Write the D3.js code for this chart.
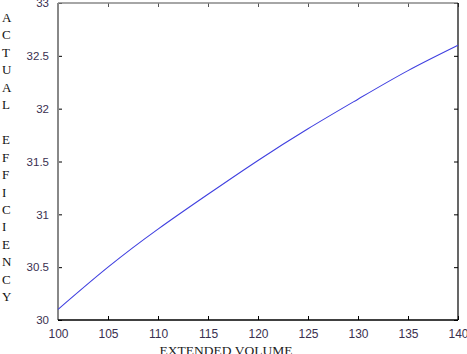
<!DOCTYPE html>
<html>
<head>
<meta charset="utf-8">
<script src="https://cdn.jsdelivr.net/npm/d3@7"></script>
<style>
  body { margin: 0; background: #fff; }
  svg { display: block; }
</style>
</head>
<body>
<script>
  // data
  var volume = [100, 105, 110, 115, 120, 125, 130, 135, 140];
  var efficiency = [30.10, 30.50, 30.86, 31.19, 31.51, 31.81, 32.09, 32.36, 32.60];
  var xTicks = [100, 105, 110, 115, 120, 125, 130, 135, 140];
  var yTicks = [30, 30.5, 31, 31.5, 32, 32.5, 33];
  var yTitle = "ACTUAL EFFICIENCY";
  var xTitle = "EXTENDED VOLUME";

  /***** Configuration *****/
  var W = 467, H = 354;
  var margin = { top: 3, right: 9, bottom: 34, left: 58 };
  var width = W - margin.left - margin.right;
  var height = H - margin.top - margin.bottom;

  var svg = d3.select("body").append("svg")
    .attr("width", W)
    .attr("height", H);

  var g = svg.append("g")
    .attr("transform", "translate(" + margin.left + "," + margin.top + ")");

  /***** Scales *****/
  var x = d3.scaleLinear().domain([100, 140]).range([0, width]);
  var y = d3.scaleLinear().domain([30, 33]).range([height, 0]);

  var tickFont = "'Liberation Sans', Arial, sans-serif";

  // bottom axis
  var xAxis = d3.axisBottom(x).tickValues(xTicks).tickSize(-4).tickPadding(9)
    .tickFormat(d3.format("d"));
  var gx = g.append("g").attr("transform", "translate(0," + height + ")").call(xAxis);
  gx.select(".domain").remove();
  gx.selectAll(".tick line").attr("stroke", "#000");
  gx.selectAll(".tick text").attr("font-family", tickFont).attr("font-size", 12).attr("fill", "#3a3050");

  // top ticks
  var gxt = g.append("g").call(d3.axisTop(x).tickValues(xTicks).tickSize(-4).tickFormat(""));
  gxt.select(".domain").remove();
  gxt.selectAll(".tick line").attr("stroke", "#555");

  // left axis
  var yAxis = d3.axisLeft(y).tickValues(yTicks).tickSize(-4).tickPadding(9)
    .tickFormat(function (d) { return d3.format("")(d); });
  var gy = g.append("g").call(yAxis);
  gy.select(".domain").remove();
  gy.selectAll(".tick line").attr("stroke", "#000");
  gy.selectAll(".tick text").attr("font-family", tickFont).attr("font-size", 11.5).attr("fill", "#3a3050");

  // right ticks
  var gyr = g.append("g").attr("transform", "translate(" + width + ",0)")
    .call(d3.axisRight(y).tickValues(yTicks).tickSize(-4).tickFormat(""));
  gyr.select(".domain").remove();
  gyr.selectAll(".tick line").attr("stroke", "#000");

  // frame
  g.append("line").attr("x1", 0).attr("x2", width).attr("y1", 0).attr("y2", 0)
    .attr("stroke", "#888").attr("stroke-width", 1.5);
  g.append("line").attr("x1", 0).attr("x2", 0).attr("y1", 0).attr("y2", height)
    .attr("stroke", "#888").attr("stroke-width", 2);
  g.append("line").attr("x1", 0).attr("x2", width).attr("y1", height).attr("y2", height)
    .attr("stroke", "#000").attr("stroke-width", 1.5);
  g.append("line").attr("x1", width).attr("x2", width).attr("y1", 0).attr("y2", height)
    .attr("stroke", "#000").attr("stroke-width", 1.2);

  /***** Line *****/
  var pts = volume.map(function (v, i) { return [v, efficiency[i]]; });
  var line = d3.line()
    .x(function (d) { return x(d[0]); })
    .y(function (d) { return y(d[1]); })
    .curve(d3.curveNatural);

  g.append("path").datum(pts)
    .attr("d", line)
    .attr("fill", "none")
    .attr("stroke", "#4040e0")
    .attr("stroke-width", 1.1);

  /***** Titles *****/
  var serif = "'Liberation Serif', 'Times New Roman', serif";
  var letters = yTitle.split("");
  svg.append("g").selectAll("text").data(letters).enter().append("text")
    .attr("x", 2)
    .attr("y", function (d, i) { return 22 + i * 17.45; })
    .attr("font-family", serif)
    .attr("font-size", 13)
    .attr("fill", "#111")
    .text(function (d) { return d; });

  svg.append("text")
    .attr("x", 226)
    .attr("y", 355)
    .attr("text-anchor", "middle")
    .attr("font-family", serif)
    .attr("font-size", 13.5)
    .attr("fill", "#222")
    .text(xTitle);
</script>
</body>
</html>
